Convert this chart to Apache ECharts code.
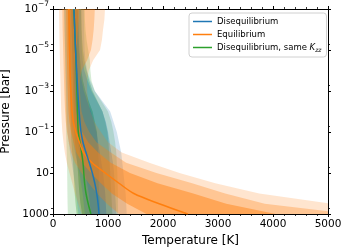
<!DOCTYPE html>
<html><head><meta charset="utf-8">
<script src="https://cdn.jsdelivr.net/npm/echarts@6/dist/echarts.min.js"></script>
<style>html,body{margin:0;padding:0;background:#fff}#c{width:348px;height:251px}</style>
</head><body><div id="c"></div>
<script>
// Pressure levels [bar] (half-decade grid)
const pressure = [1e-7, 3.16e-7, 1e-6, 3.16e-6, 1e-5, 3.16e-5, 1e-4, 3.16e-4, 1e-3, 3.16e-3, 1e-2, 3.16e-2, 0.1, 0.316, 1, 3.16, 10, 31.6, 100, 316, 1000];

// Disequilibrium (blue)
const diseqMed = [380,388,395,402,410,420,430,440,450,462,475,490,510,545,600,660,715,760,795,820,836];
const diseqLo1 = [330,335,340,345,350,355,360,365,370,378,385,395,410,440,480,530,580,620,650,670,690];
const diseqHi1 = [450,455,460,465,470,480,495,520,560,620,690,740,790,820,850,880,910,930,950,960,970];
const diseqLo2 = [270,275,280,285,290,295,300,305,310,315,320,330,345,370,400,440,480,510,540,560,580];
const diseqHi2 = [510,512,515,520,525,540,570,630,700,800,900,960,1000,1030,1060,1090,1110,1120,1130,1140,1150];
const diseqLo3 = [200,205,210,215,220,225,230,235,240,245,250,255,265,285,310,340,370,400,420,440,460];
const diseqHi3 = [560,562,565,570,575,590,620,680,760,900,1040,1100,1160,1200,1240,1260,1280,1300,1320,1330,1340];

// Equilibrium (orange)
const eqMed = [290,292,295,297,300,305,310,317,325,335,345,370,415,480,555,710,950,1200,1470,1930,2450];
const eqLo1 = [240,242,245,248,250,254,258,262,268,274,282,298,330,375,425,530,690,870,1070,1350,1700];
const eqHi1 = [470,465,455,440,420,400,390,390,395,405,420,460,530,640,820,1050,1400,1900,2550,3150,4050];
const eqLo2 = [170,172,175,180,185,190,195,200,205,212,220,232,255,290,330,400,520,650,800,980,1200];
const eqHi2 = [760,752,740,720,690,620,520,490,490,500,520,570,660,790,1050,1330,1880,2530,3130,3850,5400];
const eqLo3 = [110,112,115,118,122,126,130,135,140,145,150,158,170,190,215,250,300,350,400,460,520];
const eqHi3 = [945,935,910,890,855,730,650,620,620,640,680,750,870,1000,1250,1750,2300,2950,3750,5050,7000];

// Disequilibrium, same Kzz (green)
const sameMed = [380,388,395,402,410,418,425,430,435,440,445,450,460,490,520,545,560,575,600,640,690];
const sameLo1 = [335,338,342,346,350,353,356,360,365,370,375,380,385,400,420,440,455,465,480,500,530];
const sameHi1 = [455,460,465,470,480,495,515,545,590,650,720,760,800,810,820,830,830,830,840,850,860];
const sameLo2 = [275,278,282,286,290,293,296,300,305,310,315,320,325,335,350,365,375,385,395,410,430];
const sameHi2 = [515,518,522,530,545,570,610,660,720,810,900,950,990,1010,1020,1030,1040,1050,1060,1070,1080];
const sameLo3 = [205,207,210,214,218,222,225,228,230,232,235,238,240,245,250,255,258,260,262,265,270];
const sameHi3 = [575,580,590,610,640,670,680,700,760,880,1000,1060,1100,1130,1150,1160,1170,1175,1180,1180,1180];

const names = ['Disequilibrium', 'Equilibrium', 'Disequilibrium, same Kzz'];
const xTicks = [0, 1000, 2000, 3000, 4000, 5000];

const BLUE = '31,119,180', ORANGE = '255,127,14', GREEN = '44,160,44';

function band(lo, hi, rgb, alpha, z) {
  return {
    type: 'custom', coordinateSystem: 'cartesian2d', xAxisIndex: 0, yAxisIndex: 0,
    clip: true, silent: true, z: z,
    data: [[lo[0], pressure[0]]],
    renderItem: function (params, api) {
      const pts = [];
      for (let i = 0; i < pressure.length; i++) pts.push(api.coord([lo[i], pressure[i]]));
      for (let i = pressure.length - 1; i >= 0; i--) pts.push(api.coord([hi[i], pressure[i]]));
      return { type: 'polygon', shape: { points: pts }, style: { fill: 'rgba(' + rgb + ',' + alpha + ')', stroke: null } };
    }
  };
}
function line(name, med, rgb, z) {
  return {
    type: 'line', name: name, data: med.map((t, i) => [t, pressure[i]]),
    showSymbol: false, symbol: 'none', smooth: 0.3, z: z,
    lineStyle: { color: 'rgb(' + rgb + ')', width: 1.5 }, itemStyle: { color: 'rgb(' + rgb + ')' }
  };
}

const A = [0.2, 0.3, 0.45];
const series = [
  band(sameLo3, sameHi3, GREEN, A[0], 1), band(sameLo2, sameHi2, GREEN, A[1], 1), band(sameLo1, sameHi1, GREEN, A[2], 1),
  band(diseqLo3, diseqHi3, BLUE, A[0], 2), band(diseqLo2, diseqHi2, BLUE, A[1], 2), band(diseqLo1, diseqHi1, BLUE, A[2], 2),
  band(eqLo3, eqHi3, ORANGE, A[0], 3), band(eqLo2, eqHi2, ORANGE, A[1], 3), band(eqLo1, eqHi1, ORANGE, A[2], 3),
  line(names[0], diseqMed, BLUE, 12), line(names[1], eqMed, ORANGE, 11), line(names[2], sameMed, GREEN, 10)
];

const FONT = 'DejaVu Sans';
const axisLine = { show: true, onZero: false, lineStyle: { color: '#000', width: 1 } };
const tick = { show: true, length: 3, lineStyle: { color: '#000', width: 1 } };
const minorX = { show: true, splitNumber: 5, length: 2, lineStyle: { color: '#000', width: 0.8 } };
const minorY = { show: true, splitNumber: 2, length: 2, lineStyle: { color: '#000', width: 0.8 } };

const xBase = { type: 'value', min: xTicks[0], max: xTicks[xTicks.length - 1], interval: 1000, splitLine: { show: false },
  axisLine: axisLine, axisTick: tick, minorTick: minorX, minorSplitLine: { show: false } };
const yBase = { type: 'log', logBase: 10, min: pressure[0], max: pressure[pressure.length - 1], interval: 2, inverse: true,
  splitLine: { show: false }, axisLine: axisLine, axisTick: tick, minorTick: minorY, minorSplitLine: { show: false } };

const option = {
  animation: false,
  backgroundColor: '#fff',
  textStyle: { fontFamily: FONT },
  grid: { left: 53, right: 20, top: 9, bottom: 37, containLabel: false, outerBoundsMode: 'none' },
  xAxis: [
    Object.assign({}, xBase, { position: 'bottom', name: 'Temperature [K]', nameLocation: 'middle', nameGap: 19,
      nameTextStyle: { fontSize: 12, color: '#000', fontFamily: FONT },
      axisLabel: { fontSize: 10.5, color: '#000', margin: 5, fontFamily: FONT, formatter: function (v) { return String(v); } } }),
    Object.assign({}, xBase, { position: 'top', axisLabel: { show: false } })
  ],
  yAxis: [
    Object.assign({}, yBase, { position: 'left', name: 'Pressure [bar]', nameLocation: 'middle', nameGap: 36, nameRotate: 90,
      nameTextStyle: { fontSize: 12, color: '#000', fontFamily: FONT },
      axisLabel: { fontSize: 10.5, color: '#000', margin: 4, fontFamily: FONT,
        formatter: function (v) {
          const e = Math.round(Math.log10(v));
          if (e >= 0) return '{b|' + String(Math.round(Math.pow(10, e))) + '}';
          return '{b|10}{sup|\u2212' + (-e) + '}';
        },
        rich: {
          b: { fontSize: 10.5, color: '#000', fontFamily: FONT },
          sup: { fontSize: 7.5, color: '#000', fontFamily: FONT, padding: [0, 0, 9, 0] }
        } } }),
    Object.assign({}, yBase, { position: 'right', axisLabel: { show: false } })
  ],
  legend: {
    left: 189, top: 13, orient: 'vertical', itemWidth: 19, itemHeight: 1.5, itemGap: 4,
    padding: [4, 5, 4, 4], backgroundColor: 'rgba(255,255,255,0.8)', borderColor: '#d0d0d0', borderWidth: 1, borderRadius: 3,
    icon: 'rect',
    data: names,
    textStyle: { fontSize: 8.5, color: '#000', fontFamily: FONT,
      rich: { t: { fontSize: 8.5, color: '#000', fontFamily: FONT },
              k: { fontSize: 8.5, fontStyle: 'italic', color: '#000', fontFamily: FONT },
              sub: { fontSize: 6, fontStyle: 'italic', color: '#000', fontFamily: FONT, padding: [5, 0, 0, 0] } } },
    formatter: function (n) {
      if (n === names[2]) return '{t|Disequilibrium, same }{k|K}{sub|zz}';
      return n;
    }
  },
  series: series
};
const chart = echarts.init(document.getElementById('c'), null, { renderer: 'canvas' });
chart.setOption(option);
</script></body></html>
